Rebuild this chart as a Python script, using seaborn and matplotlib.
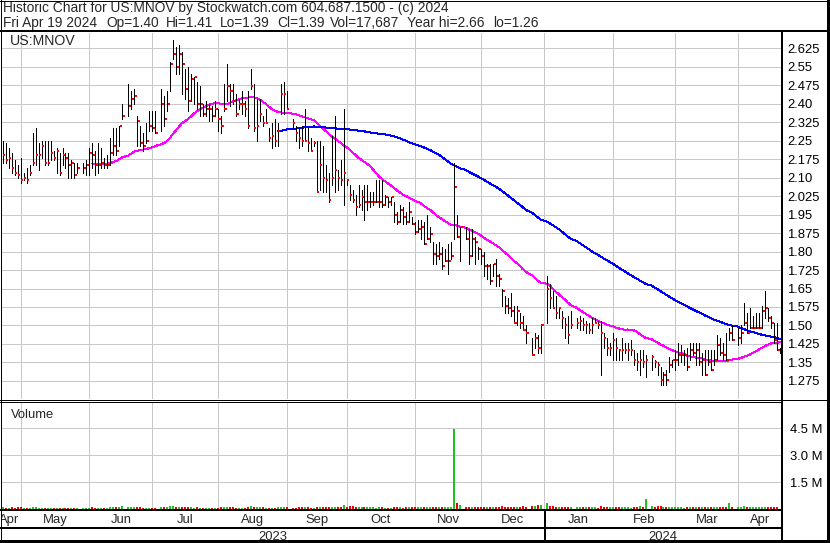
import numpy as np
import pandas as pd
import matplotlib
matplotlib.use("Agg")
import matplotlib.pyplot as plt
from matplotlib.lines import Line2D
import seaborn as sns

# ---------------- data ----------------
symbol = "US:MNOV"
first_day = "2023-04-21"
last_day = "2024-04-19"
header1 = "Historic Chart for US:MNOV by Stockwatch.com 604.687.1500 - (c) 2024"
header2_fields = ["Fri Apr 19 2024", "Op=1.40", "Hi=1.41", "Lo=1.39", "Cl=1.39",
                  "Vol=17,687", "Year hi=2.66", "lo=1.26"]

# one entry per weekday, None = market holiday (no bar)
high = [
    2.25, 2.24, 2.22, 2.20, 2.17, 2.15, 2.18, 2.12, 2.14, 2.15,
    2.28, 2.30, 2.24, 2.25, 2.25, 2.25, 2.25, 2.21, 2.22, 2.20,
    2.22, 2.20, 2.20, 2.17, 2.16, 2.16, None, 2.16, 2.17, 2.22,
    2.24, 2.21, 2.24, 2.22, 2.18, 2.19, 2.26, 2.30, 2.30, 2.31,
    2.40, None, 2.48, 2.45, 2.46, 2.35, 2.31, 2.28, 2.32, 2.37,
    2.37, 2.37, None, 2.46, 2.43, 2.45, 2.57, 2.66, 2.63, 2.64,
    2.61, 2.54, 2.55, 2.52, 2.51, 2.49, 2.47, 2.40, 2.41, 2.40,
    2.39, 2.41, 2.38, 2.35, 2.48, 2.56, 2.48, 2.48, 2.44, 2.42,
    2.45, 2.41, 2.45, 2.54, 2.48, 2.42, 2.42, 2.35, 2.38, 2.30,
    2.32, 2.34, 2.32, 2.48, 2.49, 2.45, None, 2.34, 2.31, 2.30,
    2.31, 2.38, 2.30, 2.26, 2.25, 2.25, 2.25, 2.23, 2.15, 2.12,
    2.27, 2.35, 2.13, 2.17, 2.38, 2.09, 2.07, 2.05, 2.03, 2.07,
    2.05, 2.07, 2.07, 2.04, 2.04, 2.09, 2.09, 2.09, 2.03, 2.02,
    2.02, 2.00, 1.96, 1.99, 1.98, 1.96, 2.00, 1.94, 1.92, 1.93,
    1.93, 1.92, 1.95, 1.90, 1.84, 1.83, 1.84, 1.82, 1.81, 1.83,
    1.84, 2.16, 1.95, 1.90, None, 1.90, 1.89, 1.89, 1.86, 1.82,
    1.81, 1.80, 1.75, 1.75, 1.75, 1.77, 1.71, 1.65, 1.62, 1.61,
    1.63, 1.58, 1.58, 1.55, 1.54, 1.50, None, 1.45, 1.47, 1.46,
    1.50, None, 1.70, 1.67, 1.64, 1.62, 1.57, 1.56, 1.53, 1.54,
    1.56, None, 1.53, 1.54, 1.53, 1.52, 1.51, 1.53, 1.53, 1.52,
    1.52, 1.47, 1.45, 1.43, 1.47, 1.45, 1.40, 1.45, 1.43, 1.43,
    1.44, 1.40, 1.39, 1.40, 1.40, 1.38, None, 1.38, 1.36, 1.35,
    1.33, 1.31, 1.32, 1.37, 1.36, 1.40, 1.43, 1.42, 1.40, 1.41,
    1.43, 1.43, 1.43, 1.43, 1.39, 1.40, 1.40, 1.40, 1.40, 1.46,
    1.45, 1.43, 1.47, 1.49, 1.50, None, 1.49, 1.50, 1.59, 1.55,
    1.57, 1.54, 1.55, 1.55, 1.58, 1.64, 1.57, 1.54, 1.51, 1.51,
    1.41,
]
low = [
    2.16, 2.16, 2.14, 2.12, 2.11, 2.10, 2.08, 2.09, 2.08, 2.11,
    2.15, 2.15, 2.13, 2.18, 2.15, 2.15, 2.17, 2.17, 2.12, 2.11,
    2.15, 2.14, 2.10, 2.10, 2.10, 2.12, None, 2.12, 2.11, 2.11,
    2.14, 2.11, 2.12, 2.14, 2.14, 2.14, 2.15, 2.19, 2.19, 2.23,
    2.34, None, 2.35, 2.38, 2.40, 2.23, 2.23, 2.21, 2.24, 2.29,
    2.29, 2.28, None, 2.29, 2.31, 2.37, 2.45, 2.58, 2.52, 2.52,
    2.44, 2.42, 2.37, 2.41, 2.40, 2.38, 2.35, 2.35, 2.35, 2.33,
    2.33, 2.35, 2.29, 2.28, 2.37, 2.41, 2.39, 2.40, 2.35, 2.38,
    2.36, 2.35, 2.30, 2.46, 2.29, 2.25, 2.33, 2.31, 2.32, 2.25,
    2.22, 2.23, 2.23, 2.36, 2.36, 2.38, None, 2.30, 2.25, 2.22,
    2.23, 2.25, 2.21, 2.21, 2.23, 2.04, 2.05, 2.04, 2.04, 2.00,
    2.07, 2.04, 2.05, 2.07, 1.99, 2.07, 2.01, 2.00, 1.95, 1.98,
    1.97, 1.93, 1.97, 1.98, 1.99, 2.00, 1.98, 1.98, 1.99, 1.98,
    1.99, 1.92, 1.91, 1.92, 1.91, 1.91, 1.92, 1.91, 1.87, 1.88,
    1.85, 1.83, 1.85, 1.84, 1.75, 1.75, 1.77, 1.73, 1.76, 1.71,
    1.77, 1.85, 1.86, 1.76, None, 1.85, 1.75, 1.78, 1.75, 1.77,
    1.75, 1.70, 1.69, 1.67, 1.70, 1.66, 1.66, 1.58, 1.55, 1.55,
    1.54, 1.51, 1.50, 1.49, 1.48, 1.43, None, 1.38, 1.41, 1.39,
    1.39, None, 1.51, 1.57, 1.57, 1.53, 1.53, 1.49, 1.45, 1.43,
    1.49, None, 1.49, 1.48, 1.48, 1.47, 1.47, 1.47, 1.51, 1.49,
    1.30, 1.41, 1.38, 1.38, 1.36, 1.36, 1.36, 1.36, 1.39, 1.36,
    1.38, 1.34, 1.32, 1.30, 1.33, 1.29, None, 1.32, 1.33, 1.30,
    1.26, 1.26, 1.26, 1.31, 1.33, 1.32, 1.34, 1.35, 1.34, 1.32,
    1.36, 1.38, 1.34, 1.34, 1.30, 1.30, 1.34, 1.32, 1.34, 1.36,
    1.38, 1.36, 1.36, 1.44, 1.44, None, 1.42, 1.43, 1.50, 1.47,
    1.49, 1.49, 1.49, 1.49, 1.49, 1.53, 1.52, 1.49, 1.43, 1.40,
    1.39,
]
close = [
    2.19, 2.17, 2.18, 2.14, 2.12, 2.11, 2.09, 2.10, 2.09, 2.12,
    2.16, 2.19, 2.19, 2.23, 2.16, 2.16, 2.20, 2.18, 2.21, 2.12,
    2.19, 2.18, 2.15, 2.16, 2.11, 2.14, None, 2.14, 2.15, 2.20,
    2.19, 2.15, 2.15, 2.16, 2.15, 2.15, 2.20, 2.23, 2.21, 2.31,
    2.35, None, 2.39, 2.42, 2.43, 2.33, 2.24, 2.23, 2.25, 2.31,
    2.30, 2.28, None, 2.40, 2.34, 2.40, 2.56, 2.60, 2.55, 2.60,
    2.56, 2.46, 2.41, 2.50, 2.51, 2.40, 2.40, 2.36, 2.38, 2.38,
    2.35, 2.38, 2.34, 2.31, 2.38, 2.47, 2.45, 2.41, 2.36, 2.40,
    2.40, 2.38, 2.31, 2.47, 2.30, 2.31, 2.36, 2.32, 2.32, 2.26,
    2.27, 2.25, 2.29, 2.44, 2.44, 2.38, None, 2.32, 2.28, 2.26,
    2.25, 2.25, 2.24, 2.21, 2.24, 2.04, 2.15, 2.10, 2.09, 2.01,
    2.10, 2.13, 2.10, 2.09, 2.12, 2.09, 2.03, 2.01, 1.98, 1.99,
    2.02, 2.00, 2.00, 2.00, 2.00, 2.00, 2.00, 1.99, 2.02, 2.00,
    2.02, 1.95, 1.92, 1.97, 1.94, 1.92, 1.96, 1.91, 1.88, 1.89,
    1.90, 1.83, 1.85, 1.87, 1.79, 1.78, 1.79, 1.74, 1.76, 1.76,
    1.78, 2.06, 1.86, 1.90, None, 1.85, 1.78, 1.85, 1.84, 1.81,
    1.78, 1.74, 1.74, 1.68, 1.75, 1.70, 1.69, 1.64, 1.58, 1.57,
    1.56, 1.51, 1.56, 1.51, 1.48, 1.47, None, 1.38, 1.45, 1.41,
    1.50, None, 1.65, 1.61, 1.57, 1.55, 1.57, 1.53, 1.50, 1.46,
    1.50, None, 1.51, 1.52, 1.50, 1.50, 1.48, 1.50, 1.51, 1.50,
    1.47, 1.45, 1.41, 1.41, 1.44, 1.41, 1.40, 1.40, 1.40, 1.40,
    1.40, 1.36, 1.35, 1.36, 1.35, 1.36, None, 1.37, 1.35, 1.34,
    1.28, 1.30, 1.28, 1.34, 1.36, 1.36, 1.38, 1.38, 1.38, 1.33,
    1.40, 1.39, 1.40, 1.35, 1.36, 1.30, 1.35, 1.32, 1.36, 1.42,
    1.39, 1.38, 1.36, 1.47, 1.44, None, 1.45, 1.47, 1.51, 1.47,
    1.49, 1.49, 1.49, 1.49, 1.56, 1.57, 1.53, 1.51, 1.44, 1.40,
    1.39,
]
# volume in thousands of shares
volume_k = [
    95, 80, 70, 85, 75, 90, 110, 70, 65, 80,
    120, 100, 80, 75, 70, 65, 80, 60, 75, 70,
    65, 60, 70, 75, 80, 60, None, 55, 65, 70,
    90, 80, 75, 70, 60, 65, 85, 95, 90, 110,
    140, None, 120, 100, 90, 110, 95, 80, 75, 70,
    65, 60, None, 100, 85, 90, 160, 150, 120, 110,
    100, 95, 90, 85, 80, 90, 75, 70, 65, 60,
    70, 75, 80, 90, 110, 120, 95, 85, 80, 75,
    70, 80, 90, 150, 110, 100, 90, 85, 80, 75,
    70, 80, 85, 120, 110, 95, None, 80, 75, 90,
    85, 100, 90, 80, 75, 130, 110, 100, 95, 105,
    110, 120, 95, 110, 230, 100, 150, 160, 120, 110,
    100, 105, 95, 90, 85, 80, 85, 90, 80, 75,
    80, 95, 85, 90, 80, 85, 90, 95, 100, 90,
    85, 100, 95, 90, 110, 100, 95, 105, 90, 100,
    110, 4450, 330, 200, None, 120, 130, 110, 100, 95,
    100, 110, 105, 120, 100, 115, 110, 140, 120, 110,
    115, 120, 110, 105, 170, 130, None, 180, 150, 200,
    240, None, 330, 150, 140, 130, 125, 135, 130, 120,
    110, None, 100, 95, 90, 85, 95, 90, 85, 80,
    150, 110, 100, 95, 100, 90, 85, 95, 90, 85,
    80, 95, 100, 170, 130, 540, None, 150, 120, 160,
    140, 120, 130, 110, 100, 95, 90, 85, 80, 90,
    95, 85, 90, 100, 130, 110, 100, 95, 130, 110,
    100, 95, 90, 320, 110, None, 100, 105, 140, 110,
    100, 95, 90, 95, 130, 110, 100, 95, 90, 85,
    18,
]

price_labels = ["2.625", "2.55", "2.475", "2.40", "2.325", "2.25", "2.175",
                "2.10", "2.025", "1.95", "1.875", "1.80", "1.725", "1.65",
                "1.575", "1.50", "1.425", "1.35", "1.275"]
volume_labels = ["4.5 M", "3.0 M", "1.5 M"]
volume_levels = [4.5e6, 3.0e6, 1.5e6]
month_labels = ["Apr", "May", "Jun", "Jul", "Aug", "Sep", "Oct", "Nov",
                "Dec", "Jan", "Feb", "Mar", "Apr"]
year_labels = ["2023", "2024"]
ma_short, ma_long = 30, 90

# ---------------- build table ----------------
dates = pd.bdate_range(first_day, last_day)
df = pd.DataFrame({
    "date": dates,
    "pos": np.arange(len(dates)),
    "high": np.array(high, dtype=float),
    "low": np.array(low, dtype=float),
    "close": np.array(close, dtype=float),
    "volume": np.array(volume_k, dtype=float) * 1000,
})
bars = df.dropna(subset=["close"]).copy()
bars["ma_s"] = bars["close"].rolling(ma_short).mean()
bars["ma_l"] = bars["close"].rolling(ma_long).mean()
bars["up"] = bars["close"].diff().fillna(0) >= 0

month_starts = pd.date_range("2023-05-01", "2024-04-01", freq="MS")
grid_pos = [dates.searchsorted(m, side="right") - 1 for m in month_starts]
jan_pos = grid_pos[8]

# ---------------- style ----------------
sns.set_theme(style="white")
plt.rcParams["font.family"] = ["Liberation Sans", "DejaVu Sans"]
FS = 9.4
HFS = 9.9
GRID = "#c8c8c8"
PXL = 0.72  # points per pixel at dpi 100

W, H = 830, 543
fig = plt.figure(figsize=(W / 100, H / 100), dpi=100)
fig.patch.set_facecolor("white")

L, R = 1.0, 781.5
BAR0, STEP = 2.7, 2.99


def box(top, bottom):
    return [L / W, 1 - bottom / H, (R - L) / W, (bottom - top) / H]


x_lo = (L - BAR0) / STEP
x_hi = (R - BAR0) / STEP

ax = fig.add_axes(box(32.5, 399.0))
axv = fig.add_axes(box(401.5, 509.0))
axm = fig.add_axes(box(509.0, 527.0))
axy = fig.add_axes(box(527.0, 541.0))

for a in (ax, axv, axm, axy):
    a.set_xlim(x_lo, x_hi)
    a.set_facecolor("white")
    for s in a.spines.values():
        s.set_visible(False)
    a.set_xticks([])

# ---- price panel ----
p_top = 2.625 + (48.3 - 32.5) / 246.4
p_bot = 1.275 - (399.0 - 380.9) / 246.4
ax.set_ylim(p_bot, p_top)
levels = [float(t) for t in price_labels]
for lv in levels:
    ax.axhline(lv, color=GRID, lw=PXL, zorder=0, antialiased=False)
for g in grid_pos:
    ax.axvline(g, color=GRID, lw=PXL, zorder=0, antialiased=False)

sns.lineplot(data=bars, x="pos", y="ma_s", ax=ax, color="#ff00ff", lw=PXL,
             estimator=None, sort=False, zorder=2, antialiased=False)
sns.lineplot(data=bars, x="pos", y="ma_l", ax=ax, color="#0000ff", lw=PXL,
             estimator=None, sort=False, zorder=2, antialiased=False)

ax.vlines(bars["pos"], bars["low"], bars["high"], colors="black", lw=PXL,
          zorder=3, antialiased=False)
ax.hlines(bars["close"], bars["pos"] + 0.17, bars["pos"] + 0.87, colors="#ff0000",
          lw=2 * PXL, zorder=4, antialiased=False)

ax.yaxis.tick_right()
ax.set_yticks(levels, price_labels)
ax.tick_params(axis="y", length=0, pad=4.2, labelsize=FS, labelcolor="black")
ax.set_xlabel("")
ax.set_ylabel("")
ax.text(8.5 / (R - L), 1 - (45.2 - 32.5) / (399 - 32.5), symbol,
        transform=ax.transAxes, fontsize=FS * 1.08, va="baseline", ha="left", zorder=5)

# ---- volume panel ----
axv.set_ylim(0, 6.0e6)
for lv in volume_levels:
    axv.axhline(lv, color=GRID, lw=PXL, zorder=0, antialiased=False)
for g in grid_pos:
    axv.axvline(g, color=GRID, lw=PXL, zorder=0, antialiased=False)
vcol = np.where(bars["up"], "#22c022", "#ee0000")
axv.vlines(bars["pos"], 0, bars["volume"], colors=vcol, lw=2 * PXL,
           zorder=3, antialiased=False)
axv.yaxis.tick_right()
axv.set_yticks(volume_levels, volume_labels)
axv.tick_params(axis="y", length=0, pad=6, labelsize=FS, labelcolor="black")
axv.set_xlabel("")
axv.set_ylabel("")
axv.text(9.5 / (R - L), 1 - (417.8 - 401.5) / (509 - 401.5), "Volume",
         transform=axv.transAxes, fontsize=FS, va="baseline", ha="left")

# ---- month row ----
axm.set_ylim(0, 1)
axm.set_yticks([])
bounds = [x_lo] + grid_pos + [x_hi]
for i, lab in enumerate(month_labels):
    c = (bounds[i] + bounds[i + 1]) / 2
    if i == 0:
        c -= 0.6
    axm.text(c, (527 - 522.6) / 18, lab, ha="center", va="baseline",
             fontsize=FS, clip_on=True)

# ---- year row ----
axy.set_ylim(0, 1)
axy.set_yticks([])
ybounds = [x_lo, jan_pos, x_hi]
for i, lab in enumerate(year_labels):
    c = (ybounds[i] + ybounds[i + 1]) / 2
    axy.text(c, (541 - 539.6) / 14, lab, ha="center", va="baseline",
             fontsize=FS, clip_on=True)

# ---- header ----
fig.text(3 / W, 1 - 12.4 / H, header1, fontsize=HFS, va="baseline", ha="left")
field_x = [3, 106, 166, 220, 277, 330, 407, 493]
for fx_, txt in zip(field_x, header2_fields):
    fig.text(fx_ / W, 1 - 27.4 / H, txt, fontsize=HFS, va="baseline", ha="left")


# ---- frame lines (pixel coordinates) ----
def hl(y, x0, x1, w):
    fig.add_artist(Line2D([x0 / W, x1 / W], [1 - y / H, 1 - y / H],
                          transform=fig.transFigure, color="black",
                          lw=w * PXL, antialiased=False, solid_capstyle="butt"))


def vl(x, y0, y1, w):
    fig.add_artist(Line2D([x / W, x / W], [1 - y0 / H, 1 - y1 / H],
                          transform=fig.transFigure, color="black",
                          lw=w * PXL, antialiased=False, solid_capstyle="butt"))


hl(0.5, 0, W, 1)
hl(541.8, 0, W, 2.5)
vl(0.5, 0, H, 1)
vl(828.8, 0, H, 2.5)
hl(31.0, 0, W, 2)
hl(399.5, 0, W, 1)
hl(401.8, 0, 782, 1)
vl(781.8, 31, H, 2)
hl(509.6, 0, 782, 2)
hl(527.6, 0, 782, 2)
vl(544.8, 509, H, 2)

fig.savefig("out.png", dpi=100)
